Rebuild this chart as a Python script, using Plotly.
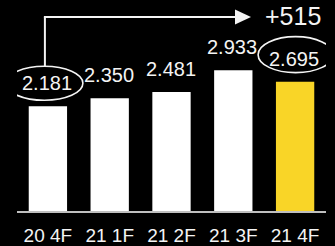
import plotly.graph_objects as go

categories = ["20 4F", "21 1F", "21 2F", "21 3F", "21 4F"]
values = [2.181, 2.350, 2.481, 2.933, 2.695]
value_labels = ["2.181", "2.350", "2.481", "2.933", "2.695"]
bar_colors = ["#FFFFFF", "#FFFFFF", "#FFFFFF", "#FFFFFF", "#F9D527"]
delta_label = "+515"

W, H = 335, 246
ML, MR, MT, MB = 17, 9, 0, 35
plot_w = W - ML - MR
plot_h = H - MT - MB
px_per_unit = 48.0
y_max = plot_h / px_per_unit
cat_w = plot_w / len(categories)

def xd(px):
    return (px - ML) / cat_w - 0.5

def yd(px):
    return (H - MB - px) / px_per_unit

xs = list(range(len(categories)))
FONT = "Liberation Sans, Arial, sans-serif"
TXT = "#F4F4F4"

fig = go.Figure(go.Bar(x=xs, y=values, marker=dict(color=bar_colors, line=dict(width=0)),
                       width=0.62, hoverinfo="skip"))

annotations = []
for i, (v, lab) in enumerate(zip(values, value_labels)):
    annotations.append(dict(x=i, y=v, text=lab, showarrow=False, yanchor="middle",
                            yshift=23, xshift=-1, font=dict(size=20, color=TXT, family=FONT)))

# ellipses (pixel offsets relative to label anchor: x0, x1, y0, y1)
ellipse_specs = [(0, -42, 35, 6, 40), (len(values) - 1, -37, 38, 9, 45)]
shapes = []
for i, ex0, ex1, ey0, ey1 in ellipse_specs:
    shapes.append(dict(type="circle", xref="x", yref="y", xsizemode="pixel", ysizemode="pixel",
                       xanchor=i, yanchor=values[i], x0=ex0, x1=ex1, y0=ey0, y1=ey1,
                       line=dict(color=TXT, width=1.6)))

# elbow arrow from first label to the delta label
top_y = yd(17)
x_start = 0
shapes.append(dict(type="line", xref="x", yref="y", xsizemode="pixel", xanchor=x_start,
                   x0=-3, x1=-3, y0=values[0] + 40 / px_per_unit, y1=top_y,
                   line=dict(color=TXT, width=2)))
shapes.append(dict(type="line", xref="x", yref="y", xsizemode="pixel", xanchor=x_start,
                   x0=-4, x1=(236 - 48), y0=top_y, y1=top_y,
                   line=dict(color=TXT, width=2)))
hh = 7.5 / px_per_unit
x_a0, x_a1 = xd(235), xd(251)
shapes.append(dict(type="path", xref="x", yref="y",
                   path=f"M {x_a0},{top_y + hh} L {x_a1},{top_y} L {x_a0},{top_y - hh} Z",
                   fillcolor=TXT, line=dict(color=TXT, width=0)))
annotations.append(dict(x=len(values) - 1, y=top_y, text=delta_label, showarrow=False,
                        xanchor="center", yanchor="middle", xshift=-2, yshift=1,
                        font=dict(size=25, color=TXT, family=FONT)))

fig.update_layout(
    width=W, height=H, margin=dict(l=ML, r=MR, t=MT, b=MB),
    paper_bgcolor="#000000", plot_bgcolor="#000000",
    showlegend=False, bargap=0.38,
    annotations=annotations, shapes=shapes,
    xaxis=dict(range=[-0.5, len(categories) - 0.5], tickvals=xs, ticktext=categories,
               showgrid=False, zeroline=False, showline=True, linecolor="#BFBFBF", linewidth=1.5,
               ticks="outside", ticklen=6, tickcolor="rgba(0,0,0,0)",
               tickfont=dict(size=19, color=TXT, family=FONT), fixedrange=True),
    yaxis=dict(range=[0, y_max], visible=False, fixedrange=True),
)

fig.write_html("out.html", config={"displayModeBar": False},
               post_script="document.body.style.margin='0';document.body.style.overflow='hidden';document.body.style.background='#000';")
